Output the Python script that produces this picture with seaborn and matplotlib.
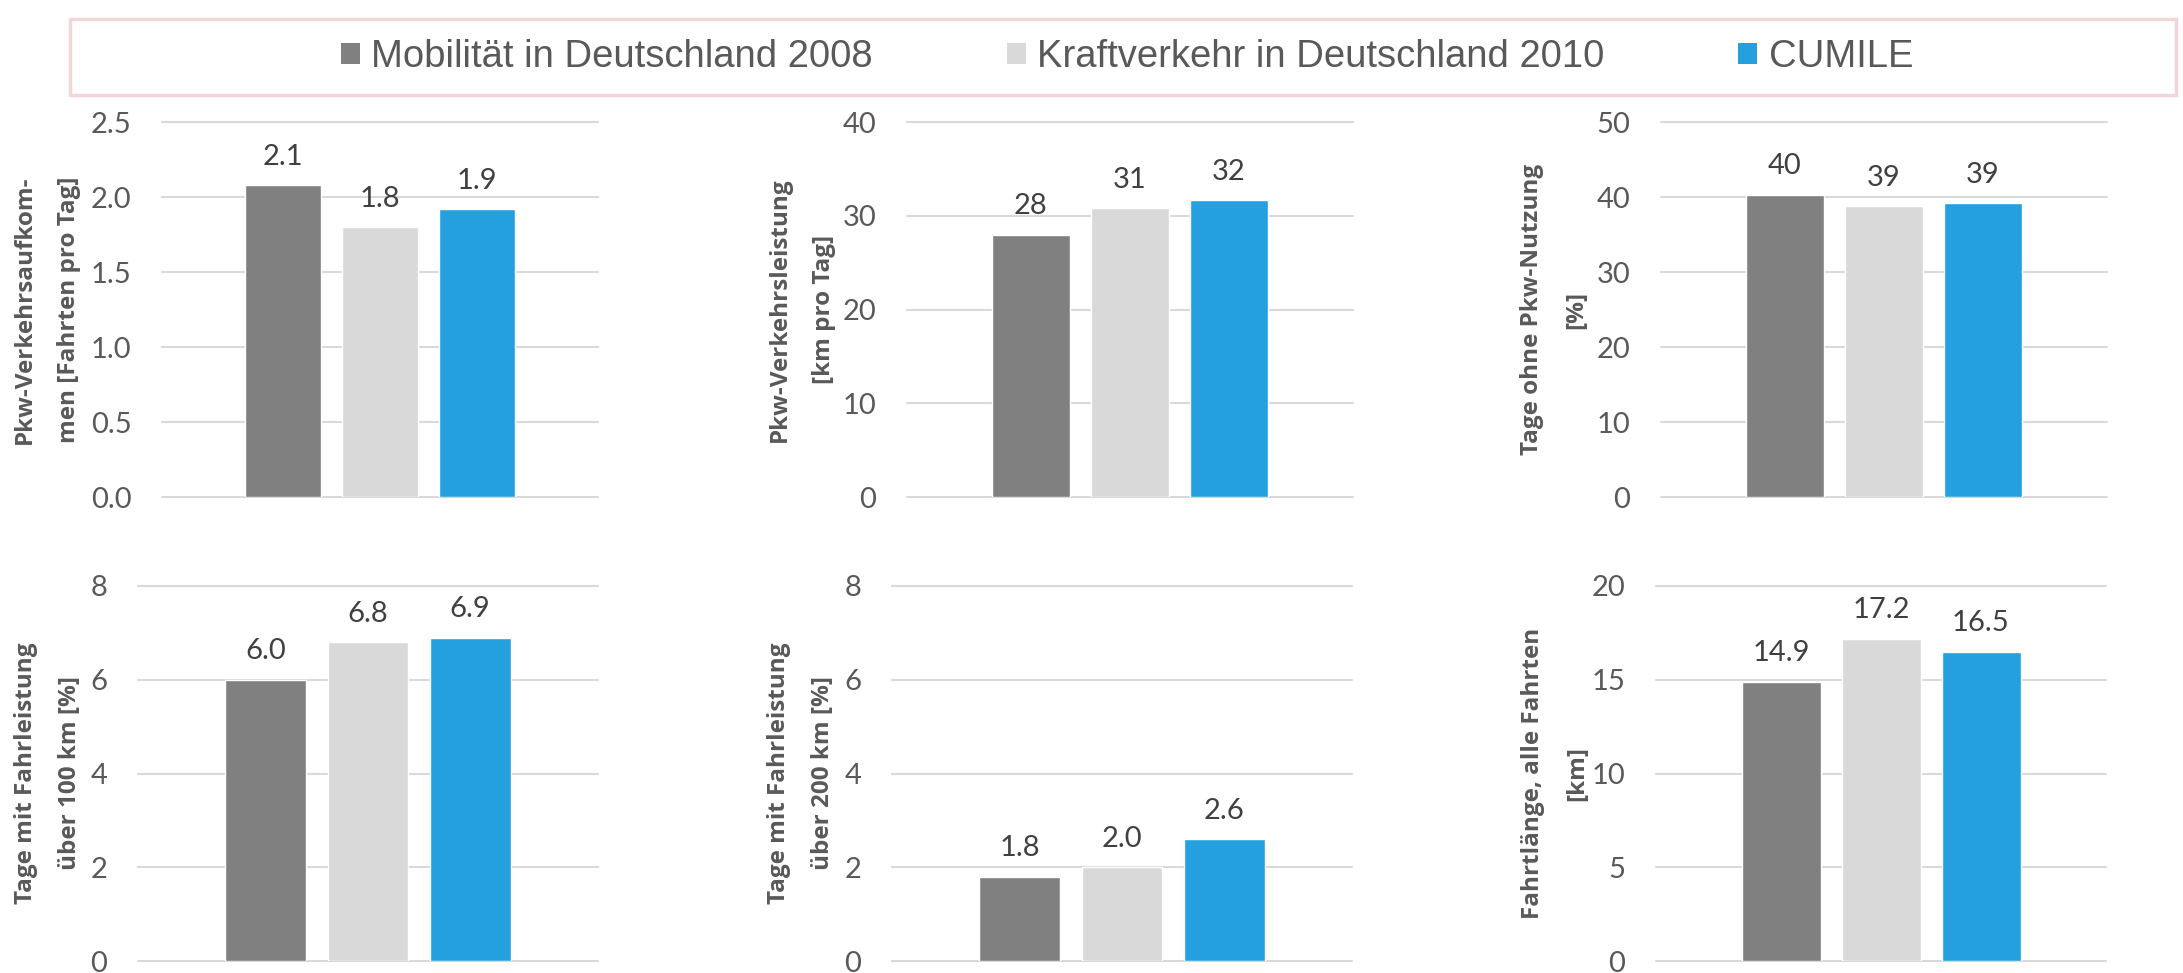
import matplotlib
matplotlib.use("Agg")
import matplotlib.pyplot as plt
from matplotlib.patches import Patch, Rectangle
from matplotlib.ticker import FormatStrFormatter
import pandas as pd
import seaborn as sns

# Data
sources = ["Mobilität in Deutschland 2008", "Kraftverkehr in Deutschland 2010", "CUMILE"]
colors = ["#808080", "#D9D9D9", "#24A0DF"]

trips_per_day = [2.08, 1.80, 1.92]
km_per_day = [28.0, 30.8, 31.7]
days_no_car = [40.3, 38.8, 39.2]
days_over_100km = [6.0, 6.8, 6.9]
days_over_200km = [1.8, 2.0, 2.6]
trip_length = [14.9, 17.2, 16.5]

ylabels = [
    "Pkw-Verkehrsaufkom-\nmen [Fahrten pro Tag]",
    "Pkw-Verkehrsleistung\n[km pro Tag]",
    "Tage ohne Pkw-Nutzung\n[%]",
    "Tage mit Fahrleistung\nüber 100 km [%]",
    "Tage mit Fahrleistung\nüber 200 km [%]",
    "Fahrtlänge, alle Fahrten\n[km]",
]
values = [trips_per_day, km_per_day, days_no_car, days_over_100km, days_over_200km, trip_length]
ymax = [2.5, 40, 50, 8, 8, 20]
ystep = [0.5, 10, 10, 2, 2, 5]
label_fmt = ["{:.1f}", "{:.0f}", "{:.0f}", "{:.1f}", "{:.1f}", "{:.1f}"]
tick_fmt = ["%.1f", "%d", "%d", "%d", "%d", "%d"]

sns.set_style("white")
plt.rcParams["font.family"] = ["Lato", "DejaVu Sans"]

W, H = 2183, 973
fig = plt.figure(figsize=(W / 100, H / 100), dpi=100)

# panel boxes in pixels: left, right, top, bottom
boxes = [
    (162, 598, 122, 497), (907, 1353, 122, 497), (1661, 2107, 122, 497),
    (138, 598, 586, 961), (892, 1352, 586, 961), (1656, 2106, 586, 961),
]
label_off = [115, 105, 107, 90, 91, 101]

for i, (l, r, t, b) in enumerate(boxes):
    ax = fig.add_axes([l / W, 1 - b / H, (r - l) / W, (b - t) / H])
    df = pd.DataFrame({"source": sources, "value": values[i]})
    sns.barplot(data=df, x="source", y="value", hue="source", palette=colors,
                width=0.79, saturation=1, legend=False, ax=ax)
    for c in ax.containers:
        ax.bar_label(c, fmt=label_fmt[i], padding=11, fontsize=21, color="#404040")
    ax.set_xlim(-1.25, 3.25)
    ax.set_ylim(0, ymax[i])
    n = int(round(ymax[i] / ystep[i]))
    ax.set_yticks([k * ystep[i] for k in range(n + 1)])
    ax.yaxis.set_major_formatter(FormatStrFormatter(tick_fmt[i]))
    ax.set_xticks([])
    ax.set_xlabel("")
    ax.tick_params(axis="y", length=0, pad=22, labelsize=21, labelcolor="#595959")
    ax.grid(axis="y", color="#D9D9D9", linewidth=1.5)
    ax.set_axisbelow(True)
    for gl in ax.get_ygridlines():
        gl.set_clip_on(False)
    sns.despine(ax=ax, left=True, bottom=True)
    ax.set_ylabel(ylabels[i], family=["Open Sans", "DejaVu Sans"], fontsize=17.5,
                  fontweight="bold", color="#595959", va="center", linespacing=2.1)
    ax.yaxis.set_label_coords(-label_off[i] / (r - l), 0.5)

# legend box
fig.patches.append(Rectangle((70 / W, 1 - 95 / H), 2106 / W, 76 / H, transform=fig.transFigure,
                             fill=False, edgecolor="#F2D6DA", linewidth=2.5))
handles = [Patch(facecolor=c, edgecolor="none") for c in colors]
fig.legend(handles, sources, loc="center", bbox_to_anchor=(1127 / W, 1 - 57 / H), ncol=3,
           frameon=False, prop={"family": "Liberation Sans", "size": 27.5},
           labelcolor="#595959", handlelength=0.5, handleheight=0.5,
           handletextpad=0.3, columnspacing=3.5)

fig.savefig("out.png", dpi=100)
